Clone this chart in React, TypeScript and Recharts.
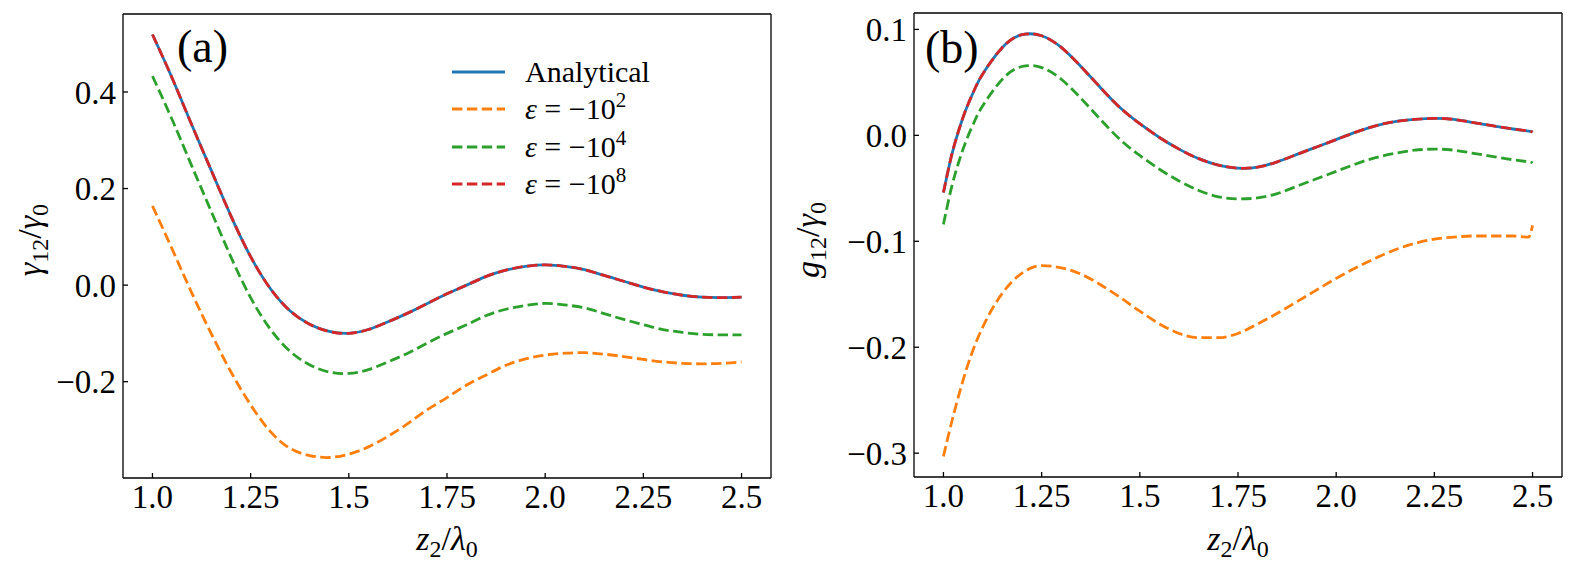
import React from 'react';
import { LineChart, Line, XAxis, YAxis, Legend } from 'recharts';

// panel (a): gamma_12 / gamma_0
const zLeft = [
  1.0, 1.05, 1.1, 1.15, 1.2, 1.25, 1.3, 1.35, 1.4, 1.45, 1.5, 1.55, 1.6, 1.65, 1.7, 1.75,
  1.8, 1.85, 1.9, 1.95, 2.0, 2.05, 2.1, 2.15, 2.2, 2.25, 2.3, 2.35, 2.4, 2.45, 2.5,
];
const gammaAnalytical = [
  0.519, 0.429, 0.332, 0.237, 0.143, 0.059, -0.007, -0.053, -0.081, -0.096, -0.1, -0.092,
  -0.076, -0.058, -0.038, -0.018, 0.0, 0.018, 0.031, 0.039, 0.042, 0.039, 0.032, 0.02,
  0.008, -0.004, -0.014, -0.021, -0.025, -0.026, -0.025,
];
const gammaEps2 = [
  0.164, 0.075, -0.016, -0.101, -0.18, -0.248, -0.303, -0.338, -0.353, -0.357, -0.35,
  -0.335, -0.313, -0.287, -0.258, -0.233, -0.207, -0.186, -0.166, -0.153, -0.145, -0.141,
  -0.14, -0.143, -0.148, -0.154, -0.159, -0.162, -0.163, -0.162, -0.159,
];
const gammaEps4 = [
  0.433, 0.343, 0.247, 0.152, 0.058, -0.026, -0.091, -0.137, -0.165, -0.18, -0.183,
  -0.175, -0.159, -0.141, -0.12, -0.1, -0.082, -0.063, -0.05, -0.042, -0.038, -0.041,
  -0.047, -0.059, -0.071, -0.082, -0.092, -0.098, -0.102, -0.103, -0.103,
];
const gammaEps8 = [
  0.519, 0.429, 0.332, 0.237, 0.143, 0.059, -0.007, -0.053, -0.081, -0.096, -0.1, -0.092,
  -0.076, -0.058, -0.038, -0.018, 0.0, 0.018, 0.031, 0.039, 0.042, 0.039, 0.032, 0.02,
  0.008, -0.004, -0.014, -0.021, -0.025, -0.026, -0.025,
];

// panel (b): g_12 / gamma_0
const zRight = [
  1.0, 1.02, 1.04, 1.06, 1.08, 1.1, 1.15, 1.2, 1.25, 1.3, 1.35, 1.4, 1.45, 1.5, 1.55, 1.6,
  1.65, 1.7, 1.75, 1.8, 1.85, 1.9, 1.95, 2.0, 2.05, 2.1, 2.15, 2.2, 2.25, 2.3, 2.35, 2.4,
  2.45, 2.49, 2.5,
];
const gAnalytical = [
  -0.054, -0.02, 0.006, 0.027, 0.044, 0.058, 0.083, 0.095, 0.094, 0.083, 0.065, 0.045,
  0.026, 0.011, -0.002, -0.013, -0.022, -0.028, -0.031, -0.03, -0.025, -0.018, -0.011,
  -0.004, 0.003, 0.009, 0.013, 0.015, 0.016, 0.015, 0.012, 0.009, 0.006, 0.004, 0.003,
];
const gEps2 = [
  -0.303, -0.272, -0.244, -0.219, -0.198, -0.181, -0.149, -0.13, -0.123, -0.125, -0.131,
  -0.141, -0.153, -0.166, -0.178, -0.187, -0.191, -0.191, -0.187, -0.178, -0.168, -0.157,
  -0.146, -0.135, -0.125, -0.116, -0.108, -0.102, -0.098, -0.096, -0.095, -0.095, -0.095,
  -0.096, -0.085,
];
const gEps4 = [
  -0.084, -0.05, -0.024, -0.003, 0.014, 0.028, 0.053, 0.065, 0.064, 0.053, 0.035, 0.015,
  -0.004, -0.019, -0.032, -0.043, -0.052, -0.058, -0.06, -0.059, -0.055, -0.048, -0.041,
  -0.034, -0.027, -0.021, -0.017, -0.014, -0.013, -0.014, -0.017, -0.02, -0.023, -0.025,
  -0.026,
];
const gEps8 = [
  -0.054, -0.02, 0.006, 0.027, 0.044, 0.058, 0.083, 0.095, 0.094, 0.083, 0.065, 0.045,
  0.026, 0.011, -0.002, -0.013, -0.022, -0.028, -0.031, -0.03, -0.025, -0.018, -0.011,
  -0.004, 0.003, 0.009, 0.013, 0.015, 0.016, 0.015, 0.012, 0.009, 0.006, 0.004, 0.003,
];

const xTicks = [1.0, 1.25, 1.5, 1.75, 2.0, 2.25, 2.5];
const xTickLabels = ['1.0', '1.25', '1.5', '1.75', '2.0', '2.25', '2.5'];
const yTicksLeft = [-0.2, 0.0, 0.2, 0.4];
const yTicksRight = [-0.3, -0.2, -0.1, 0.0, 0.1];

const DASH = '10.4 4.5';
const series = [
  { key: 'analytical', label: 'Analytical', exp: '', color: '#1f77b4', dash: undefined as string | undefined },
  { key: 'eps2', label: '', exp: '2', color: '#ff7f0e', dash: DASH },
  { key: 'eps4', label: '', exp: '4', color: '#2ca02c', dash: DASH },
  { key: 'eps8', label: '', exp: '8', color: '#d62728', dash: DASH },
];

const leftRows = zLeft.map((z, i) => ({
  z,
  analytical: gammaAnalytical[i],
  eps2: gammaEps2[i],
  eps4: gammaEps4[i],
  eps8: gammaEps8[i],
}));
const rightRows = zRight.map((z, i) => ({
  z,
  analytical: gAnalytical[i],
  eps2: gEps2[i],
  eps4: gEps4[i],
  eps8: gEps8[i],
}));

const FONT = '"Liberation Serif", serif';
const tickStyle = { fill: '#000', fontSize: 33, fontFamily: FONT };
const lineStyle = { stroke: '#000', strokeWidth: 1.3 };
const xDomain: [number, number] = [0.925, 2.575];

const fmtX = (v: number) => {
  const i = xTicks.indexOf(v);
  return i >= 0 ? xTickLabels[i] : String(v);
};
const fmtY = (v: number) => (v < -1e-9 ? '\u2212' : '') + Math.abs(v).toFixed(1);

function LegendBox() {
  return (
    <div style={{ fontFamily: FONT, fontSize: 30, color: '#000' }}>
      {series.map((s) => (
        <div key={s.key} style={{ display: 'flex', alignItems: 'center', height: 37.5 }}>
          <svg width={57} height={10} style={{ marginRight: 18 }}>
            <line x1={2} y1={5} x2={55} y2={5} stroke={s.color} strokeWidth={2.8} strokeDasharray={s.dash} />
          </svg>
          {s.exp ? (
            <span style={{ whiteSpace: 'nowrap' }}>
              <i>ε</i> = {'\u2212'}10
              <span style={{ fontSize: 21, position: 'relative', top: -12 }}>{s.exp}</span>
            </span>
          ) : (
            <span>{s.label}</span>
          )}
        </div>
      ))}
    </div>
  );
}

interface PanelProps {
  rows: typeof leftRows;
  width: number;
  margin: { top: number; right: number; bottom: number; left: number };
  yWidth: number;
  yDomain: [number, number];
  yTicks: number[];
  legend?: boolean;
  kinkKey?: string;
}

function Panel({ rows, width, margin, yWidth, yDomain, yTicks, legend, kinkKey }: PanelProps) {
  return (
    <LineChart width={width} height={571} data={rows} margin={margin}>
      <XAxis
        dataKey="z"
        type="number"
        domain={xDomain}
        allowDataOverflow
        ticks={xTicks}
        tickFormatter={fmtX}
        tick={tickStyle}
        tickSize={-5}
        tickMargin={12}
        height={60}
        axisLine={lineStyle}
        tickLine={lineStyle}
      />
      <XAxis
        xAxisId="top"
        dataKey="z"
        orientation="top"
        type="number"
        domain={xDomain}
        allowDataOverflow
        ticks={xTicks}
        tick={false}
        tickSize={-5}
        height={1}
        axisLine={lineStyle}
        tickLine={lineStyle}
      />
      <YAxis
        type="number"
        domain={yDomain}
        allowDataOverflow
        ticks={yTicks}
        tickFormatter={fmtY}
        tick={tickStyle}
        tickSize={-5}
        tickMargin={12}
        width={yWidth}
        axisLine={lineStyle}
        tickLine={lineStyle}
      />
      <YAxis
        yAxisId="right"
        orientation="right"
        type="number"
        domain={yDomain}
        allowDataOverflow
        ticks={yTicks}
        tick={false}
        tickSize={-5}
        width={1}
        axisLine={lineStyle}
        tickLine={lineStyle}
      />
      {/* invisible series tied to the frame axes */}
      <Line
        xAxisId="top"
        yAxisId="right"
        dataKey="analytical"
        stroke="none"
        dot={false}
        activeDot={false}
        legendType="none"
        isAnimationActive={false}
      />
      {series.map((s) => (
        <Line
          key={s.key}
          dataKey={s.key}
          type={s.key === kinkKey ? 'monotone' : 'natural'}
          stroke={s.color}
          strokeWidth={2.8}
          strokeDasharray={s.dash}
          dot={false}
          activeDot={false}
          isAnimationActive={false}
        />
      ))}
      {legend && (
        <Legend
          layout="vertical"
          align="center"
          verticalAlign="middle"
          wrapperStyle={{ left: 450, top: 53, width: 'auto', height: 'auto' }}
          content={() => <LegendBox />}
        />
      )}
    </LineChart>
  );
}

export default function App() {
  const sub = { fontSize: 24 };
  return (
    <div
      style={{
        position: 'absolute',
        left: 0,
        top: 0,
        width: 1578,
        height: 571,
        background: '#fff',
        fontFamily: FONT,
      }}
    >
      <div style={{ position: 'absolute', left: 0, top: 0 }}>
        <Panel
          rows={leftRows}
          width={800}
          margin={{ top: 13, right: 28, bottom: 33, left: 0 }}
          yWidth={123}
          yDomain={[-0.3995, 0.5615]}
          yTicks={yTicksLeft}
          legend
        />
      </div>
      <div style={{ position: 'absolute', left: 800, top: 0 }}>
        <Panel
          rows={rightRows}
          width={778}
          margin={{ top: 12, right: 15, bottom: 34, left: 0 }}
          yWidth={114}
          yDomain={[-0.3225, 0.1155]}
          yTicks={yTicksRight}
          kinkKey="eps2"
        />
      </div>
      <svg
        width={1578}
        height={571}
        style={{ position: 'absolute', left: 0, top: 0, pointerEvents: 'none', fontFamily: FONT }}
        fill="#000"
      >
        <text x={177} y={62} fontSize={46}>(a)</text>
        <text x={925} y={63} fontSize={46}>(b)</text>

        <text x={447} y={550} fontSize={34} textAnchor="middle">
          <tspan fontStyle="italic">z</tspan>
          <tspan {...sub} dy={7}>2</tspan>
          <tspan dy={-7}>/</tspan>
          <tspan fontStyle="italic">λ</tspan>
          <tspan {...sub} dy={7}>0</tspan>
        </text>
        <text x={1238} y={550} fontSize={34} textAnchor="middle">
          <tspan fontStyle="italic">z</tspan>
          <tspan {...sub} dy={7}>2</tspan>
          <tspan dy={-7}>/</tspan>
          <tspan fontStyle="italic">λ</tspan>
          <tspan {...sub} dy={7}>0</tspan>
        </text>

        <text transform="translate(41,240) rotate(-90)" fontSize={34} textAnchor="middle">
          <tspan fontStyle="italic">γ</tspan>
          <tspan {...sub} dy={7}>12</tspan>
          <tspan dy={-7}>/</tspan>
          <tspan fontStyle="italic">γ</tspan>
          <tspan {...sub} dy={7}>0</tspan>
        </text>
        <text transform="translate(819,240) rotate(-90)" fontSize={34} textAnchor="middle">
          <tspan fontStyle="italic">g</tspan>
          <tspan {...sub} dy={7}>12</tspan>
          <tspan dy={-7}>/</tspan>
          <tspan fontStyle="italic">γ</tspan>
          <tspan {...sub} dy={7}>0</tspan>
        </text>
      </svg>
    </div>
  );
}
